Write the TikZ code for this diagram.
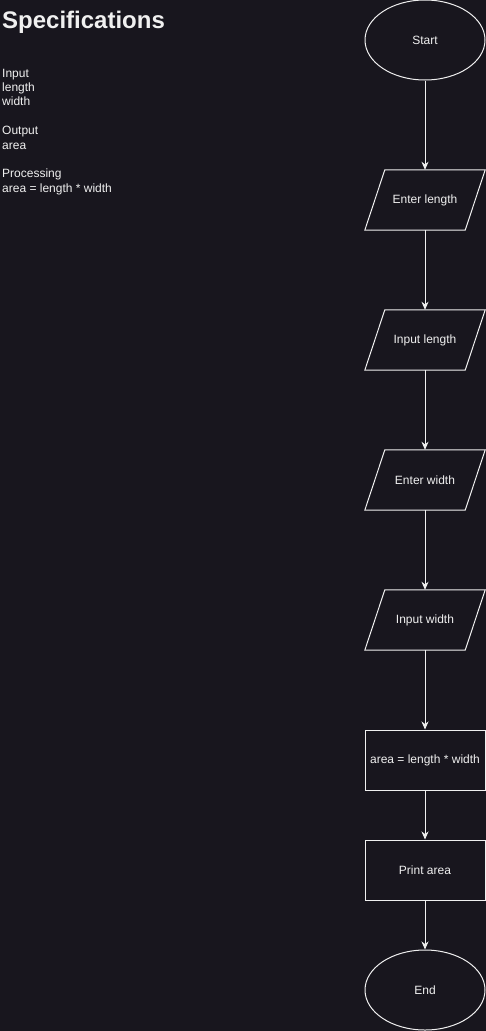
\documentclass[tikz,border=0pt]{standalone}
\usepackage{fontspec}
\setmainfont{Liberation Sans}
\usetikzlibrary{shapes.geometric,arrows.meta,calc}
\definecolor{bg}{HTML}{18161E}
\definecolor{fg}{HTML}{F0F0F0}
\begin{document}
\begin{tikzpicture}[x=1pt,y=-1pt,
  every node/.style={text=fg,font=\fontsize{12}{14.4}\selectfont},
  term/.style={ellipse,draw=fg,line width=1pt,minimum width=120pt,minimum height=80pt,inner sep=0pt},
  iobox/.style={minimum width=120pt,minimum height=60pt,inner sep=0pt},
  procbox/.style={draw=fg,line width=1pt,minimum width=120pt,minimum height=60pt,inner sep=0pt},
  spec/.style={anchor=base west,inner sep=0pt},
  flow/.style={draw=fg,line width=1pt,-{Stealth[length=8pt,width=7pt,inset=2.5pt]}}]
\fill[bg] (0,0) rectangle (486,1031);
\useasboundingbox (0,0) rectangle (486,1031);
% specifications
\node[spec,font=\fontsize{24}{28}\selectfont\bfseries] (title) at (2,28) {Specifications};
\node[spec] (s1) at (2,77) {Input};
\node[spec] (s2) at (2,91.4) {length};
\node[spec] (s3) at (2,105.8) {width};
\node[spec] (s4) at (2,134.6) {Output};
\node[spec] (s5) at (2,149) {area};
\node[spec] (s6) at (2,177.8) {Processing};
\node[spec] (s7) at (2,192.2) {area = length * width};
% flowchart
\node[term] (start) at (425,40) {Start};
\node[iobox] (el) at (425,200) {Enter length};
\node[iobox] (il) at (425,340) {Input length};
\node[iobox] (ew) at (425,480) {Enter width};
\node[iobox] (iw) at (425,620) {Input width};
\node[procbox] (calc) at (425,760) {area = length * width};
\node[procbox] (pr) at (425,870) {Print area};
\node[term] (end) at (425,990) {End};
\foreach \n in {el,il,ew,iw}{
  \draw[fg,line width=1pt,line join=miter] ($(\n.north west)+(20,0)$) -- (\n.north east) -- ($(\n.south east)+(-20,0)$) -- (\n.south west) -- cycle;
}
\draw[flow] (start) -- (el);
\draw[flow] (el) -- (il);
\draw[flow] (il) -- (ew);
\draw[flow] (ew) -- (iw);
\draw[flow] (iw) -- (calc);
\draw[flow] (calc) -- (pr);
\draw[flow] (pr) -- (end);
\end{tikzpicture}
\end{document}
